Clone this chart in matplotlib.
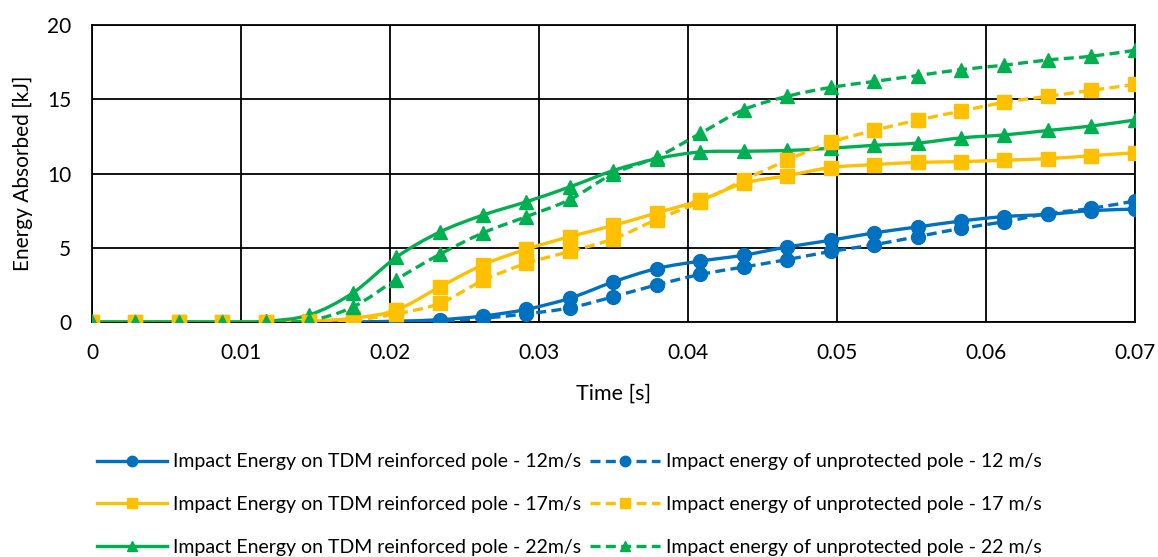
import numpy as np
import matplotlib
matplotlib.use("Agg")
import matplotlib.pyplot as plt
from matplotlib.path import Path
from matplotlib.patches import PathPatch
from matplotlib.lines import Line2D

plt.rcParams["font.family"] = ["Lato", "DejaVu Sans"]

# time samples (s)
time = [i * 0.07 / 24 for i in range(25)]

# energy absorbed (kJ)
tdm_12 = [0, 0, 0, 0, 0, 0, 0, 0.05, 0.15, 0.4, 0.85, 1.6, 2.7, 3.6, 4.1, 4.5, 5.05,
          5.5, 6.0, 6.4, 6.8, 7.1, 7.25, 7.5, 7.6]
unp_12 = [0, 0, 0, 0, 0, 0, 0, 0, 0.05, 0.25, 0.55, 0.95, 1.7, 2.5, 3.2, 3.7, 4.2,
          4.75, 5.2, 5.75, 6.3, 6.75, 7.3, 7.65, 8.15]
tdm_17 = [0, 0, 0, 0, 0, 0.05, 0.25, 0.8, 2.35, 3.85, 4.9, 5.75, 6.5, 7.35, 8.2, 9.35, 9.85,
          10.4, 10.6, 10.75, 10.8, 10.9, 11.0, 11.2, 11.4]
unp_17 = [0, 0, 0, 0, 0, 0, 0.1, 0.55, 1.25, 2.8, 3.95, 4.75, 5.6, 6.9, 8.1, 9.55, 10.9,
          12.1, 12.9, 13.6, 14.2, 14.8, 15.2, 15.6, 16.0]
tdm_22 = [0, 0, 0, 0, 0.05, 0.47, 1.95, 4.35, 6.05, 7.2, 8.1, 9.1, 10.2, 11.0, 11.45, 11.5,
          11.55, 11.7, 11.9, 12.05, 12.4, 12.6, 12.9, 13.2, 13.6]
unp_22 = [0, 0, 0, 0, 0, 0.1, 1.0, 2.85, 4.55, 6.0, 7.1, 8.25, 10.0, 11.1, 12.7, 14.3, 15.2,
          15.8, 16.2, 16.6, 17.0, 17.3, 17.65, 17.9, 18.3]

labels = ["Impact Energy on TDM reinforced pole - 12m/s",
          "Impact Energy on TDM reinforced pole - 17m/s",
          "Impact Energy on TDM reinforced pole - 22m/s",
          "Impact energy of unprotected pole - 12 m/s",
          "Impact energy of unprotected pole - 17 m/s",
          "Impact energy of unprotected pole - 22 m/s"]

blue, yellow, green = "#0070C0", "#FFC000", "#00B050"
series = [
    (tdm_12, blue, "o", "-"),
    (tdm_17, yellow, "s", "-"),
    (tdm_22, green, "^", "-"),
    (unp_12, blue, "o", "--"),
    (unp_17, yellow, "s", "--"),
    (unp_22, green, "^", "--"),
]


def smooth_path(x, y):
    # Catmull-Rom style bezier, like Excel's smoothed line
    pts = np.column_stack([x, y])
    verts = [pts[0]]
    codes = [Path.MOVETO]
    n = len(pts)
    for i in range(n - 1):
        p0 = pts[max(i - 1, 0)]
        p1 = pts[i]
        p2 = pts[i + 1]
        p3 = pts[min(i + 2, n - 1)]
        c1 = p1 + (p2 - p0) / 6
        c2 = p2 - (p3 - p1) / 6
        verts += [c1, c2, p2]
        codes += [Path.CURVE4] * 3
    return Path(verts, codes)


fig = plt.figure(figsize=(11.58, 5.57), dpi=100)
ax = fig.add_axes([0.0794, 0.422, 0.9006, 0.533])

dash = (0, (3, 1.6))
handles = []
for vals, col, mk, ls in series:
    ax.add_patch(PathPatch(smooth_path(time, vals), facecolor="none", edgecolor=col,
                           lw=2.4, linestyle=ls if ls == "-" else dash,
                           zorder=3, capstyle="butt"))
    ax.plot(time, vals, linestyle="none", marker=mk, color=col, markersize=10, zorder=4)
    handles.append(Line2D([], [], color=col, lw=2.4, marker=mk, markersize=7.5,
                          linestyle="-" if ls == "-" else dash))

ax.set_xlim(0, 0.07)
ax.set_ylim(0, 20)
ax.set_xticks([0, 0.01, 0.02, 0.03, 0.04, 0.05, 0.06, 0.07])
ax.set_xticklabels(["0", "0.01", "0.02", "0.03", "0.04", "0.05", "0.06", "0.07"])
ax.set_yticks([0, 5, 10, 15, 20])
ax.grid(True, color="black", lw=1.3)
ax.set_axisbelow(True)
ax.tick_params(length=0, labelsize=15)
ax.tick_params(axis="x", pad=15)
ax.tick_params(axis="y", pad=15)
for s in ax.spines.values():
    s.set_color("black")
    s.set_linewidth(1.3)
ax.set_xlabel("Time [s]", fontsize=15.5, labelpad=15)
ax.set_ylabel("Energy Absorbed [kJ]", fontsize=15, labelpad=10)

fig.legend(handles, labels, ncol=2, loc="upper left", bbox_to_anchor=(0.0838, 0.186),
           frameon=False, fontsize=14, handlelength=3.6, columnspacing=0.45,
           handletextpad=0.3, labelspacing=1.33, borderaxespad=0, borderpad=0)

fig.savefig("out.png", dpi=100)
